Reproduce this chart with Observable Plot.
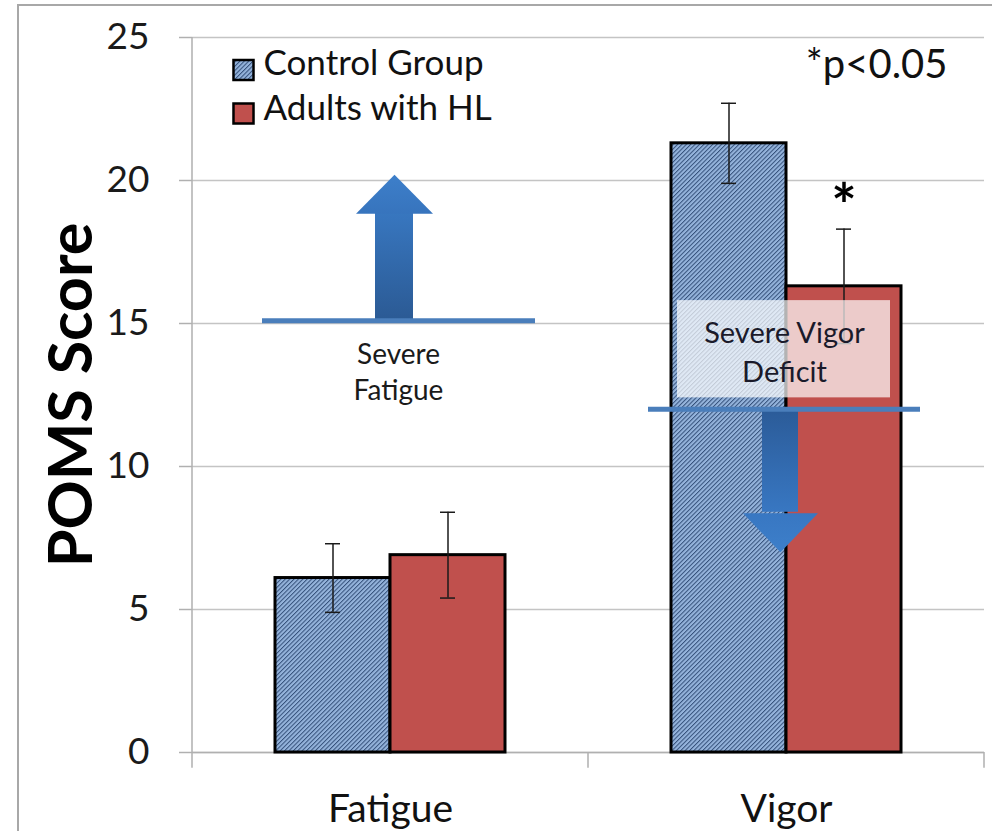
<!DOCTYPE html>
<html><head><meta charset="utf-8">
<script src="https://cdn.jsdelivr.net/npm/d3@7"></script>
<script src="https://cdn.jsdelivr.net/npm/@observablehq/plot@0.6"></script>
<style>
body{margin:0;background:#fff;overflow:hidden}
#wrap{position:relative;width:992px;height:831px;overflow:hidden;background:#fff}
#border{position:absolute;left:17px;top:4px;width:1100px;height:1000px;border:2px solid #a8a8a8;box-sizing:border-box;pointer-events:none}
#chart{position:absolute;left:0;top:0}
g[aria-label="threshold"]{filter:drop-shadow(0px 3px 2px rgba(0,0,0,0.35))}
g[aria-label="arrow shaft"], g[aria-label="arrow head"]{filter:drop-shadow(1px 3px 3px rgba(0,0,0,0.3))}
</style></head><body><div id="wrap"><div id="chart"></div><div id="border"></div></div>
<script>
// ---- data ----
const categories = ["Fatigue", "Vigor"];
const groups = ["Control Group", "Adults with HL"];
const controlMeans = [6.1, 21.3];
const controlErrors = [1.2, 1.4];
const hlMeans = [6.9, 16.3];
const hlErrors = [1.5, 2.0];
const hlSignificance = ["", "*"];
const yTicks = [0, 5, 10, 15, 20, 25];
const groupColors = ["url(#hatch)", "#c0504d"];
// annotation values (POMS score units)
const thresholds = [15.1, 12.0];
const arrowBases = [18.9, 8.4];
const arrowTips = [20.2, 7.0];
const annotationTexts = ["Severe\nFatigue", "Severe Vigor\nDeficit"];
const annotationTextY = [13.36, 14.07];
const boxBottom = [null, 12.4];
const boxTop = [null, 15.8];
const pNote = "*p<0.05";
const yLabel = "POMS Score";

// ---- tables built from the arrays ----
const rows = categories.flatMap((c, i) => [
  {category: c, group: groups[0], value: controlMeans[i], err: controlErrors[i], sig: ""},
  {category: c, group: groups[1], value: hlMeans[i], err: hlErrors[i], sig: hlSignificance[i]}
]);
const ann = categories.map((c, i) => ({
  category: c, value: thresholds[i], base: arrowBases[i], tip: arrowTips[i],
  text: annotationTexts[i], textY: annotationTextY[i], boxY1: boxBottom[i], boxY2: boxTop[i]
}));
const annF = ann.filter(d => d.category === "Fatigue");
const annV = ann.filter(d => d.category === "Vigor");
const legendRows = groups.map((g, i) => ({category: categories[0], group: g, i}));
// category-axis boundary ticks (and value-axis line on the first one)
const boundaryLeft = categories.map((c, i) => ({category: c, top: i === 0 ? 25 : 0}));
const boundaryRight = categories.slice(-1).map(c => ({category: c, top: 0}));

const headUp = {draw(ctx) { ctx.moveTo(0, 0); ctx.lineTo(38.5, 39); ctx.lineTo(-38.5, 39); ctx.closePath(); }};
const headDown = {draw(ctx) { ctx.moveTo(0, 0); ctx.lineTo(37.5, -39); ctx.lineTo(-37.5, -39); ctx.closePath(); }};

const font = "Lato, 'Open Sans', sans-serif";
const axisGray = "#b0b0b0";
const band = 396; // facet band width in px (992 - 192 - 8) / 2

const plot = Plot.plot({
  width: 992,
  height: 831,
  marginLeft: 192,
  marginRight: 8,
  marginTop: 37,
  marginBottom: 79,
  style: {background: "transparent", fontFamily: font},
  fx: {domain: categories, padding: 0},
  x: {domain: groups, paddingInner: 0, paddingOuter: 0.72, axis: null},
  y: {domain: [0, 25]},
  color: {domain: groups, range: groupColors},
  marks: [
    Plot.gridY(yTicks, {stroke: "#c4c4c4", strokeOpacity: 1, strokeWidth: 1.3}),
    Plot.ruleY([0], {stroke: axisGray, strokeWidth: 1.5}),
    Plot.rect(boundaryLeft, {fx: "category", y1: -0.55, y2: "top", insetLeft: -0.75, insetRight: band - 0.75, fill: axisGray}),
    Plot.rect(boundaryRight, {fx: "category", y1: -0.55, y2: "top", insetLeft: band - 0.75, insetRight: -0.75, fill: axisGray}),
    // bars
    Plot.barY(rows, {fx: "category", x: "group", y: "value", fill: "group", stroke: "#000", strokeWidth: 3}),
    // error bars
    Plot.ruleX(rows, {fx: "category", x: "group", y1: d => d.value - d.err, y2: d => d.value + d.err, stroke: "#1a1a1a", strokeWidth: 1.5}),
    Plot.tickY(rows, {fx: "category", x: "group", y: d => d.value + d.err, stroke: "#1a1a1a", strokeWidth: 1.5, insetLeft: 50, insetRight: 50}),
    Plot.tickY(rows, {fx: "category", x: "group", y: d => d.value - d.err, stroke: "#1a1a1a", strokeWidth: 1.5, insetLeft: 50, insetRight: 50}),
    // significance star
    Plot.text(rows.filter(d => d.sig), {fx: "category", x: "group", y: d => d.value + d.err, text: "sig", dy: -21, fontSize: 60, fontWeight: "bold", fill: "#000", fontFamily: font}),
    // translucent label box
    Plot.rect(annV, {fx: "category", y1: "boxY1", y2: "boxY2", insetLeft: 89, insetRight: 94, fill: "#fff", fillOpacity: 0.7}),
    // arrows
    Plot.rect(annF, {fx: "category", y1: "value", y2: "base", insetLeft: 183, insetRight: 175, fill: "url(#gradUp)", ariaLabel: "arrow shaft"}),
    Plot.dot(annF, {fx: "category", y: "tip", dx: 4, symbol: headUp, r: 10, fill: "url(#gradHeadUp)", stroke: "none", ariaLabel: "arrow head"}),
    Plot.rect(annV, {fx: "category", y1: "base", y2: "value", insetLeft: 174, insetRight: 186, fill: "url(#gradDown)", ariaLabel: "arrow shaft"}),
    Plot.dot(annV, {fx: "category", y: "tip", dx: -6, symbol: headDown, r: 10, fill: "url(#gradHeadDown)", stroke: "none", ariaLabel: "arrow head"}),
    // threshold lines
    Plot.ruleY(annF, {fx: "category", y: "value", insetLeft: 70, insetRight: 53, stroke: "#4a7ebb", strokeWidth: 5, ariaLabel: "threshold"}),
    Plot.ruleY(annV, {fx: "category", y: "value", insetLeft: 60, insetRight: 64, stroke: "#4a7ebb", strokeWidth: 5, ariaLabel: "threshold"}),
    // annotation texts
    Plot.text(annF, {fx: "category", y: "textY", text: "text", dx: 8, fontSize: 28, lineHeight: 1.29, fill: "#1a1a1a", fontFamily: font}),
    Plot.text(annV, {fx: "category", y: "textY", text: "text", dx: -2, fontSize: 29, lineHeight: 1.34, fill: "#1a1a2a", fontFamily: font}),
    // legend
    Plot.dot(legendRows.filter(d => d.i === 0), {fx: "category", frameAnchor: "top-left", dx: 51, dy: 32.5, symbol: "square", r: 11.3, fill: "group", stroke: "#000", strokeWidth: 2.5}),
    Plot.dot(legendRows.filter(d => d.i === 1), {fx: "category", frameAnchor: "top-left", dx: 51, dy: 76, symbol: "square", r: 11.3, fill: "group", stroke: "#000", strokeWidth: 2.5}),
    Plot.text(legendRows.filter(d => d.i === 0), {fx: "category", frameAnchor: "top-left", dx: 71, dy: 26, text: "group", textAnchor: "start", lineAnchor: "middle", fontSize: 35, fill: "#111", fontFamily: font}),
    Plot.text(legendRows.filter(d => d.i === 1), {fx: "category", frameAnchor: "top-left", dx: 71, dy: 71, text: "group", textAnchor: "start", lineAnchor: "middle", fontSize: 35, fill: "#111", fontFamily: font}),
    // p-value note
    Plot.text([{category: categories[1], t: pNote}], {fx: "category", frameAnchor: "top-right", dx: -37, dy: 28, text: "t", textAnchor: "end", lineAnchor: "middle", fontSize: 40, fill: "#111", fontFamily: font}),
    // y label
    Plot.text([{category: categories[0], t: yLabel}], {fx: "category", frameAnchor: "left", dx: -120, text: "t", rotate: -90, textAnchor: "middle", lineAnchor: "middle", fontSize: 61, fontWeight: "bold", fill: "#000", fontFamily: font}),
    // axes
    Plot.axisY({ticks: yTicks, tickSize: 13, tickPadding: 30, fontSize: 37, fontFamily: font, stroke: axisGray, strokeWidth: 1.5, fill: "#1a1a1a", label: null}),
    Plot.axisFx({anchor: "bottom", tickSize: 0, tickPadding: 42, fontSize: 39, fontFamily: font, fill: "#111", label: null})
  ]
});

// pattern + gradient definitions referenced by url(#...)
const svg = plot.tagName.toLowerCase() === "svg" ? plot : plot.querySelector("svg");
const defs = d3.select(svg).insert("defs", ":first-child");
const pat = defs.append("pattern").attr("id", "hatch").attr("patternUnits", "userSpaceOnUse")
  .attr("width", 3.1).attr("height", 3.1).attr("patternTransform", "rotate(45)");
pat.append("rect").attr("width", 3.1).attr("height", 3.1).attr("fill", "#95b4dc");
pat.append("line").attr("x1", 0.5).attr("y1", 0).attr("x2", 0.5).attr("y2", 3.1).attr("stroke", "#34507a").attr("stroke-width", 1);
function grad(id, top, bottom) {
  const g = defs.append("linearGradient").attr("id", id).attr("x1", 0).attr("y1", 0).attr("x2", 0).attr("y2", 1);
  g.append("stop").attr("offset", 0).attr("stop-color", top);
  g.append("stop").attr("offset", 1).attr("stop-color", bottom);
}
grad("gradUp", "#3877c0", "#2b5a94");
grad("gradHeadUp", "#3d7fca", "#3774bd");
grad("gradDown", "#2b5b98", "#3877c2");
grad("gradHeadDown", "#3877c2", "#3d7fca");

document.getElementById("chart").appendChild(plot);
</script></body></html>
